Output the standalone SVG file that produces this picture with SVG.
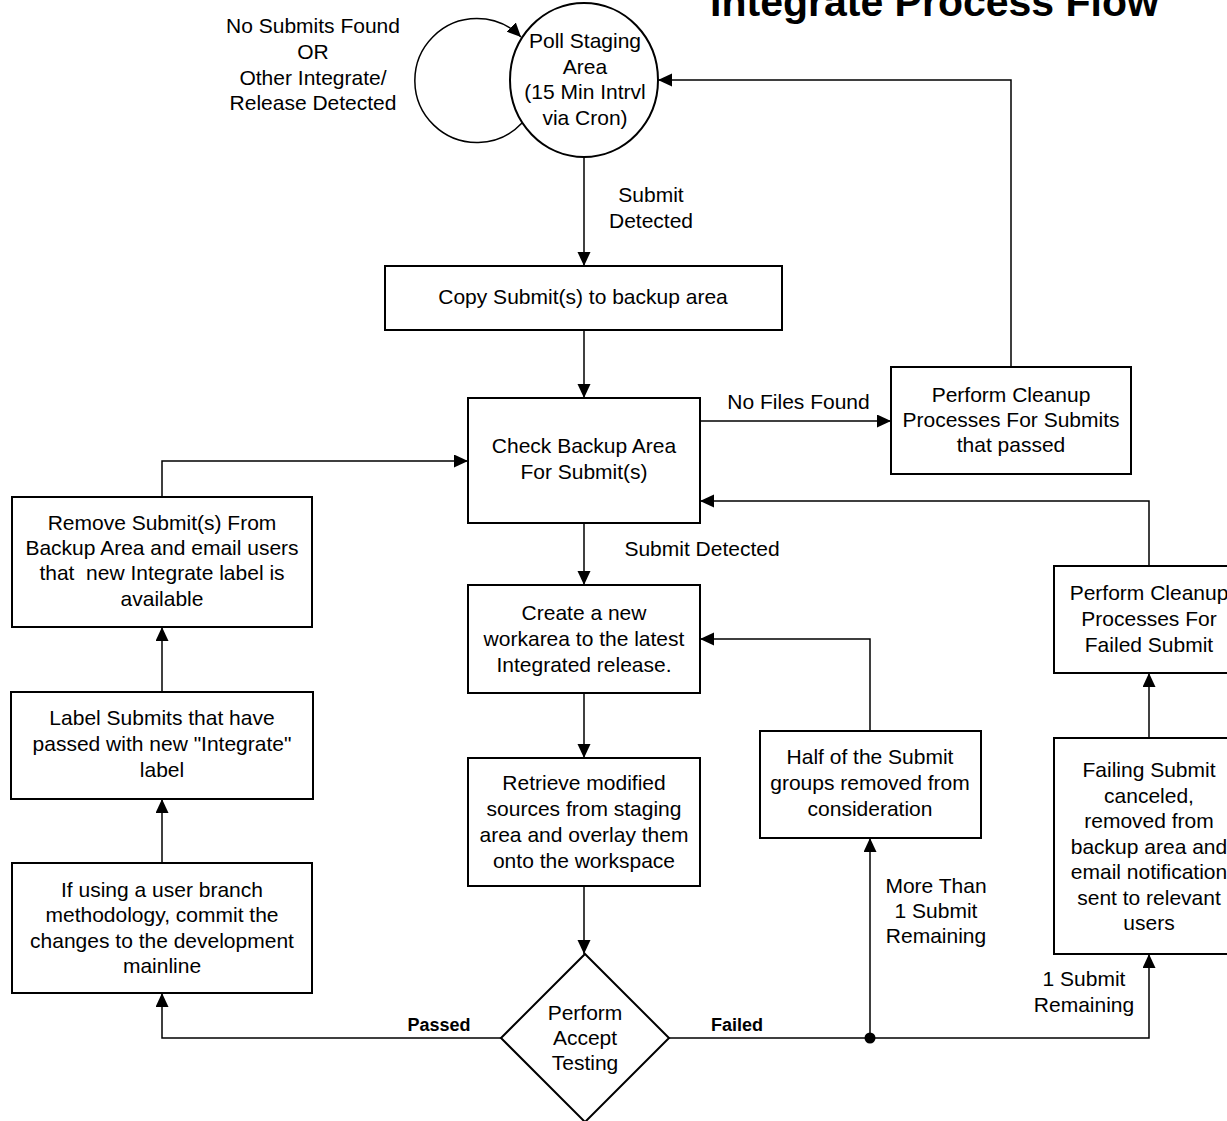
<svg xmlns="http://www.w3.org/2000/svg" width="1227" height="1121" viewBox="0 0 1227 1121">
<defs>
<style>
.t{font-family:"Liberation Sans",Arial,sans-serif;font-size:21px;text-anchor:middle;fill:#000}
.b{font-family:"Liberation Sans",Arial,sans-serif;font-size:18px;font-weight:bold;text-anchor:middle;fill:#000}
.title{font-family:"Liberation Sans",Arial,sans-serif;font-size:41px;font-weight:bold;text-anchor:middle;fill:#000}
.box{fill:#fff;stroke:#000;stroke-width:2}
.c{fill:none;stroke:#000;stroke-width:1.5}
</style>
<marker id="ah" markerUnits="userSpaceOnUse" markerWidth="15" markerHeight="14" refX="14" refY="6.5" orient="auto">
<path d="M0,0 L14,6.5 L0,13 z" fill="#000"/>
</marker>
</defs>
<rect width="1227" height="1121" fill="#fff"/>

<text class="title" x="934.5" y="16">Integrate Process Flow</text>

<g id="connectors">
<path class="c" d="M522,123 A62,62 0 1,1 521,37" marker-end="url(#ah)"/>
<path class="c" d="M584,157 L584,266" marker-end="url(#ah)"/>
<path class="c" d="M584,330 L584,398" marker-end="url(#ah)"/>
<path class="c" d="M700,421 L891,421" marker-end="url(#ah)"/>
<path class="c" d="M1011,367 L1011,80 L658,80" marker-end="url(#ah)"/>
<path class="c" d="M584,523 L584,585" marker-end="url(#ah)"/>
<path class="c" d="M584,693 L584,758" marker-end="url(#ah)"/>
<path class="c" d="M584,886 L584,954" marker-end="url(#ah)"/>
<path class="c" d="M501,1038 L162,1038 L162,993" marker-end="url(#ah)"/>
<path class="c" d="M162,863 L162,799" marker-end="url(#ah)"/>
<path class="c" d="M162,692 L162,627" marker-end="url(#ah)"/>
<path class="c" d="M162,497 L162,461 L468,461" marker-end="url(#ah)"/>
<path class="c" d="M669,1038 L1149,1038 L1149,954" marker-end="url(#ah)"/>
<path class="c" d="M870,1038 L870,838" marker-end="url(#ah)"/>
<path class="c" d="M870,731 L870,639 L700,639" marker-end="url(#ah)"/>
<path class="c" d="M1149,738 L1149,673" marker-end="url(#ah)"/>
<path class="c" d="M1149,566 L1149,501 L700,501" marker-end="url(#ah)"/>
<circle cx="870" cy="1038" r="5.5" fill="#000"/>
<text class="t" x="313" y="33"><tspan x="313">No Submits Found</tspan><tspan x="313" y="58.5">OR</tspan><tspan x="313" y="84.5">Other Integrate/</tspan><tspan x="313" y="110">Release Detected</tspan></text>
<text class="t" x="651" y="202"><tspan x="651">Submit</tspan><tspan x="651" y="228">Detected</tspan></text>
<text class="t" x="798.5" y="409">No Files Found</text>
<text class="t" x="702" y="556">Submit Detected</text>
<text class="t" x="936" y="893"><tspan x="936">More Than</tspan><tspan x="936" y="918">1 Submit</tspan><tspan x="936" y="943">Remaining</tspan></text>
<text class="t" x="1084" y="986"><tspan x="1084">1 Submit</tspan><tspan x="1084" y="1012">Remaining</tspan></text>
<text class="b" x="439" y="1031">Passed</text>
<text class="b" x="737" y="1031">Failed</text>
</g>

<g id="poll">
<ellipse class="box" cx="584" cy="80" rx="74" ry="77"/>
<text class="t" x="585" y="48"><tspan x="585">Poll Staging</tspan><tspan x="585" y="73.5">Area</tspan><tspan x="585" y="99">(15 Min Intrvl</tspan><tspan x="585" y="124.5">via Cron)</tspan></text>
</g>

<g id="copy">
<rect class="box" x="385" y="266" width="397" height="64"/>
<text class="t" x="583" y="304">Copy Submit(s) to backup area</text>
</g>

<g id="check">
<rect class="box" x="468" y="398" width="232" height="125"/>
<text class="t" x="584" y="453"><tspan x="584">Check Backup Area</tspan><tspan x="584" y="479">For Submit(s)</tspan></text>
</g>

<g id="cleanup-passed">
<rect class="box" x="891" y="367" width="240" height="107"/>
<text class="t" x="1011" y="402"><tspan x="1011">Perform Cleanup</tspan><tspan x="1011" y="427">Processes For Submits</tspan><tspan x="1011" y="452">that passed</tspan></text>
</g>

<g id="create">
<rect class="box" x="468" y="585" width="232" height="108"/>
<text class="t" x="584" y="620"><tspan x="584">Create a new</tspan><tspan x="584" y="646">workarea to the latest</tspan><tspan x="584" y="672">Integrated release.</tspan></text>
</g>

<g id="retrieve">
<rect class="box" x="468" y="758" width="232" height="128"/>
<text class="t" x="584" y="790"><tspan x="584">Retrieve modified</tspan><tspan x="584" y="816">sources from staging</tspan><tspan x="584" y="842">area and overlay them</tspan><tspan x="584" y="868">onto the workspace</tspan></text>
</g>

<g id="accept">
<polygon class="box" points="585,954 669,1038 585,1122 501,1038"/>
<text class="t" x="585" y="1020"><tspan x="585">Perform</tspan><tspan x="585" y="1045">Accept</tspan><tspan x="585" y="1070">Testing</tspan></text>
</g>

<g id="half">
<rect class="box" x="760" y="731" width="221" height="107"/>
<text class="t" x="870" y="764"><tspan x="870">Half of the Submit</tspan><tspan x="870" y="790">groups removed from</tspan><tspan x="870" y="816">consideration</tspan></text>
</g>

<g id="cleanup-failed">
<rect class="box" x="1054" y="566" width="190" height="107"/>
<text class="t" x="1149" y="600"><tspan x="1149">Perform Cleanup</tspan><tspan x="1149" y="626">Processes For</tspan><tspan x="1149" y="652">Failed Submit</tspan></text>
</g>

<g id="failing">
<rect class="box" x="1054" y="738" width="190" height="216"/>
<text class="t" x="1149" y="777"><tspan x="1149">Failing Submit</tspan><tspan x="1149" y="802.5">canceled,</tspan><tspan x="1149" y="828">removed from</tspan><tspan x="1149" y="853.5">backup area and</tspan><tspan x="1149" y="879">email notification</tspan><tspan x="1149" y="904.5">sent to relevant</tspan><tspan x="1149" y="930">users</tspan></text>
</g>

<g id="remove">
<rect class="box" x="12" y="497" width="300" height="130"/>
<text class="t" x="162" y="530"><tspan x="162">Remove Submit(s) From</tspan><tspan x="162" y="555">Backup Area and email users</tspan><tspan x="162" y="580" xml:space="preserve">that  new Integrate label is</tspan><tspan x="162" y="606">available</tspan></text>
</g>

<g id="label">
<rect class="box" x="11" y="692" width="302" height="107"/>
<text class="t" x="162" y="725"><tspan x="162">Label Submits that have</tspan><tspan x="162" y="751">passed with new "Integrate"</tspan><tspan x="162" y="777">label</tspan></text>
</g>

<g id="commit">
<rect class="box" x="12" y="863" width="300" height="130"/>
<text class="t" x="162" y="897"><tspan x="162">If using a user branch</tspan><tspan x="162" y="922">methodology, commit the</tspan><tspan x="162" y="948">changes to the development</tspan><tspan x="162" y="973">mainline</tspan></text>
</g>
</svg>
